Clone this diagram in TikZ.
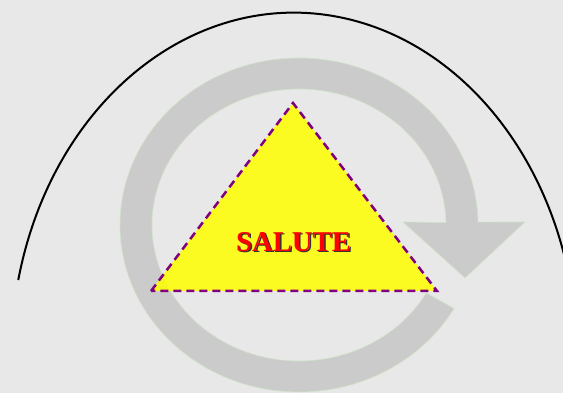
\documentclass[tikz,border=0pt]{standalone}
\usepackage{fontspec}
\setmainfont{Liberation Serif}

\definecolor{sfondo}{RGB}{232,232,232}
\definecolor{anello}{RGB}{203,203,203}
\definecolor{bordoanello}{RGB}{208,228,200}
\definecolor{giallo}{RGB}{255,255,0}
\definecolor{viola}{RGB}{128,0,128}
\definecolor{rosso}{RGB}{255,0,0}

\begin{document}
\begin{tikzpicture}[x=1pt,y=1pt,
    freccia/.style={fill=anello, draw=bordoanello, line width=0.6pt},
    triangolo/.style={fill=giallo, fill opacity=0.85, draw=viola, draw opacity=1,
        line width=2.5pt, dash pattern=on 8pt off 5pt},
    scritta/.style={font=\fontsize{28.7}{30}\selectfont\bfseries, inner sep=0pt, anchor=base}]

    % Sfondo
    \useasboundingbox (0,0) rectangle (563,393);
    \clip (0,0) rectangle (563,393);
    \fill[sfondo] (0,0) rectangle (563,393);

    % Freccia circolare (filigrana)
    \draw[freccia] (299,168) ++(1:179 and 167)
        arc[start angle=1, end angle=330, x radius=179, y radius=167]
        -- (426.3,100)
        arc[start angle=330, end angle=1, x radius=147, y radius=136]
        -- (403,171) -- (465,115) -- (525,171) -- cycle;

    % Vertici del triangolo
    \coordinate (vertice) at (293,290);
    \coordinate (sx) at (151,102);
    \coordinate (dx) at (437,102);

    % Triangolo
    \draw[triangolo] (sx) -- (vertice) -- (dx) -- cycle;

    % Scritta con ombra
    \node[scritta, text=black!80] (ombra) at (295,140) {SALUTE};
    \node[scritta, text=rosso] (salute) at (293.5,141.5) {SALUTE};

    % Arco
    \draw[line width=2pt] (294,35.3) ++(167:283 and 345)
        arc[start angle=167, end angle=14, x radius=283, y radius=345];
\end{tikzpicture}
\end{document}
